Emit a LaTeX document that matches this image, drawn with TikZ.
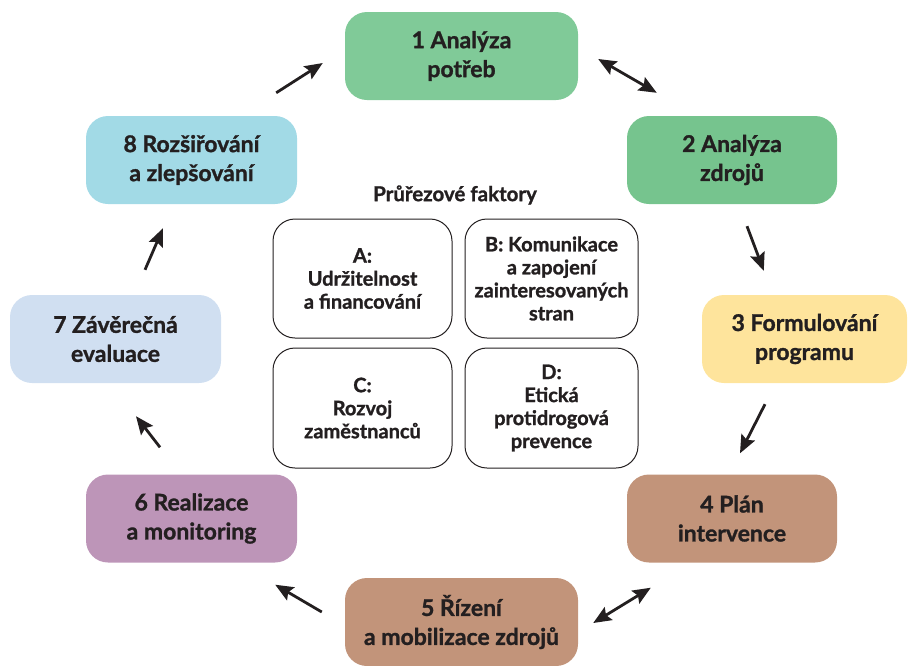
\documentclass[tikz,border=0pt]{standalone}
\usepackage{fontspec}
\setmainfont{Lato}[BoldFont={Lato Bold}, BoldFeatures={FakeBold=1.2}]
\usepackage{tikz}
\usetikzlibrary{arrows.meta,positioning}
\definecolor{cycgreen}{RGB}{128,202,152}
\definecolor{cycgreenb}{RGB}{118,196,142}
\definecolor{cycyellow}{RGB}{254,228,156}
\definecolor{cycbrown}{RGB}{194,148,122}
\definecolor{cycpurple}{RGB}{189,149,184}
\definecolor{cycpale}{RGB}{208,223,241}
\definecolor{cyccyan}{RGB}{162,218,230}
\definecolor{cycink}{RGB}{35,31,32}
\tikzset{
  stage/.style={rounded corners=22pt, align=center, inner sep=0pt,
    minimum height=88pt, font=\fontsize{23}{29}\selectfont\bfseries, text=cycink},
  factor/.style={draw=cycink, line width=1pt, rounded corners=22pt, align=center,
    inner sep=0pt, minimum height=119pt, font=\fontsize{20}{23}\selectfont\bfseries,
    text=cycink},
  arr/.style={-{Stealth[length=18pt,width=15pt,inset=3pt]}, line width=2.8pt, cycink},
  biarr/.style={{Stealth[length=18pt,width=15pt,inset=3pt]}-{Stealth[length=18pt,width=15pt,inset=3pt]},
    line width=2.8pt, cycink}
}
\begin{document}
\begin{tikzpicture}[x=1pt,y=-1pt]
  \useasboundingbox (0,0) rectangle (908,665);
  % cycle stages
  \node[stage, fill=cycgreen, minimum width=233pt] (n1) at (461.5,56) {1 Analýza\\potřeb};
  \node[stage, fill=cycgreenb, minimum width=210pt] (n2) at (732,160) {2 Analýza\\zdrojů};
  \node[stage, fill=cycyellow, minimum width=205pt] (n3) at (804.5,339) {3 Formulování\\programu};
  \node[stage, fill=cycbrown, minimum width=210pt] (n4) at (732,518.5) {4 Plán\\intervence};
  \node[stage, fill=cycbrown, minimum width=233pt] (n5) at (461.5,622) {5 Řízení\\a mobilizace zdrojů};
  \node[stage, fill=cycpurple, minimum width=211pt] (n6) at (191.5,518.5) {6 Realizace\\a monitoring};
  \node[stage, fill=cycpale, minimum width=211pt] (n7) at (115.5,339) {7 Závěrečná\\evaluace};
  \node[stage, fill=cyccyan, minimum width=211pt] (n8) at (191.5,160) {8 Rozšiřování\\a zlepšování};
  % cross-cutting factors
  \node[font=\fontsize{20.5}{22}\selectfont\bfseries, text=cycink] (title) at (455,195) {Průřezové faktory};
  \node[factor, minimum width=179pt] (fa) at (362.5,278.5) {A:\\Udržitelnost\\a financování};
  \node[factor, minimum width=173pt] (fb) at (551.5,278.5) {B: Komunikace\\a zapojení\\zainteresovaných\\stran};
  \node[factor, minimum width=179pt, minimum height=120pt] (fc) at (362.5,408) {C:\\Rozvoj\\zaměstnanců};
  \node[factor, minimum width=173pt, minimum height=120pt] (fd) at (551.5,408) {D:\\Etická\\protidrogová\\prevence};
  % arrows
  \draw[arr] ([shift={(-21,-23)}]n8.north east) -- ([shift={(-22,7)}]n1.west);
  \draw[biarr] ([shift={(20,3)}]n1.east) -- ([shift={(30,-23)}]n2.north west);
  \draw[arr] ([shift={(15,22)}]n2.south) -- ([shift={(62,-24)}]n3.north west);
  \draw[arr] ([shift={(-39.5,21)}]n3.south) -- ([shift={(8,-21)}]n4.north);
  \draw[biarr] ([shift={(24,25)}]n4.south west) -- ([shift={(15,1)}]n5.east);
  \draw[arr] ([shift={(-23,-10)}]n5.west) -- ([shift={(-22,22)}]n6.south east);
  \draw[arr] ([shift={(-31.5,-27)}]n6.north) -- ([shift={(20.5,33)}]n7.south);
  \draw[arr] ([shift={(29.5,-25)}]n7.north) -- ([shift={(-28.5,24)}]n8.south);
\end{tikzpicture}
\end{document}
